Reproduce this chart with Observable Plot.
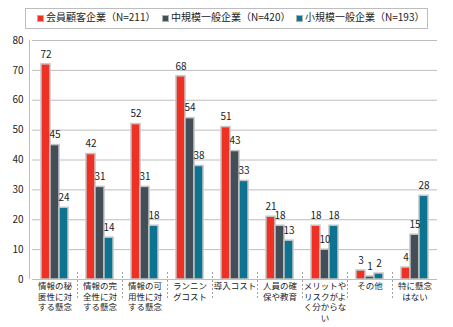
<!DOCTYPE html>
<html><head><meta charset="utf-8">
<script src="https://cdn.jsdelivr.net/npm/d3@7"></script>
<script src="https://cdn.jsdelivr.net/npm/@observablehq/plot@0.6"></script>
<style>
body{margin:0;background:#fff;font-family:"Noto Sans CJK JP",sans-serif;color:#222;}
#legend{position:relative;width:453px;height:32px;}
#legendbox{position:absolute;left:25px;top:8px;width:401px;height:19px;border:1px solid #bdbdbd;}
.item{position:absolute;top:9px;height:16px;display:flex;align-items:center;font-size:10px;line-height:16px;white-space:nowrap;}
.sw{width:5px;height:5px;border:1px solid #b0b0b0;margin-right:2px;margin-top:3px;}
svg{display:block;}
</style></head>
<body>
<div id="legend"><div id="legendbox"></div></div>
<div id="chart"></div>
<script>
const categories = ["情報の秘\n匿性に対\nする懸念","情報の完\n全性に対\nする懸念","情報の可\n用性に対\nする懸念","ランニン\nグコスト","導入コスト","人員の確\n保や教育","メリットや\nリスクがよ\nく分からな\nい","その他","特に懸念\nはない"];
const series = ["会員顧客企業（N=211）","中規模一般企業（N=420）","小規模一般企業（N=193）"];
const memberValues = [72,42,52,68,51,21,18,3,4];
const midValues = [45,31,31,54,43,18,10,1,15];
const smallValues = [24,14,18,38,33,13,18,2,28];
const colors = ["#ee3124","#434f58","#0c7391"];
const yTicks = [0,10,20,30,40,50,60,70,80];

const valueSets = [memberValues, midValues, smallValues];
const data = [];
categories.forEach((c,i)=>series.forEach((s,j)=>data.push({category:c, series:s, value:valueSets[j][i]})));

// legend
const legendLefts = [37,162,296];
const lg = document.getElementById("legend");
series.forEach((s,j)=>{
  const it = document.createElement("div");
  it.className="item"; it.style.left=legendLefts[j]+"px";
  const sw = document.createElement("span"); sw.className="sw"; sw.style.background=colors[j];
  const tx = document.createElement("span"); tx.textContent=s;
  it.appendChild(sw); it.appendChild(tx); lg.appendChild(it);
});

const labelMarks = [0,1,2,3].map(i => Plot.text(
  categories.filter(c => c.split("\n").length > i),
  {fx:d=>d, y:0, text:d=>d.split("\n")[i], dy:7+i*10.5, fill:"#222", fontSize:8.5}
));

const plot = Plot.plot({
  width:453, height:295,
  marginLeft:29, marginRight:13, marginTop:8, marginBottom:48,
  style:{fontFamily:'"Noto Sans CJK JP",sans-serif', fontSize:"10px", color:"#222", background:"#fff", overflow:"visible"},
  fx:{domain:categories, paddingInner:0, paddingOuter:0, axis:null},
  x:{domain:series, paddingInner:0, paddingOuter:0.8, axis:null},
  y:{domain:[0,80], ticks:yTicks, tickSize:0, tickPadding:9, label:null},
  color:{domain:series, range:colors},
  marks:[
    Plot.ruleY(yTicks,{stroke:"#bdbdbd", strokeWidth:1}),
    Plot.barY(data,{fx:"category", x:"series", y:"value", fill:"series", stroke:"#c4c4c4", strokeWidth:1.5, inset:0}),
    Plot.text(data,{fx:"category", x:"series", y:"value", text:d=>String(d.value), dy:-10, fill:"#222", fontSize:10}),
    ...labelMarks
  ]
});
document.getElementById("chart").appendChild(plot);

// separators and left line from scales
const fx = plot.scale("fx"), y = plot.scale("y");
const svg = d3.select(plot);
const y0 = y.apply(0), yTop = y.apply(80);
const g = svg.append("g");
g.append("line").attr("x1",fx.range[0]+0.5).attr("x2",fx.range[0]+0.5).attr("y1",yTop).attr("y2",y0).attr("stroke","#bdbdbd");
categories.slice(1).forEach(c=>{
  const x = Math.round(fx.apply(c))+0.5;
  g.append("line").attr("x1",x).attr("x2",x).attr("y1",y0-7).attr("y2",y.apply(-7)).attr("stroke","#a0a0a0").attr("stroke-dasharray","2,2");
});
</script>
</body></html>
